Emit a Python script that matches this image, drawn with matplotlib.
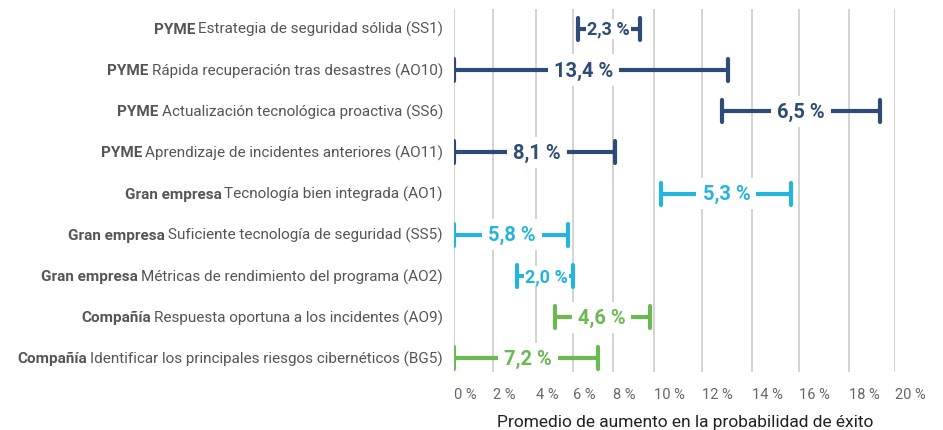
import matplotlib
matplotlib.use("Agg")
import matplotlib.pyplot as plt
import numpy as np

# ---- data ----
groups = ["PYME", "PYME", "PYME", "PYME",
          "Gran empresa", "Gran empresa", "Gran empresa",
          "Compañía", "Compañía"]
items = ["Estrategia de seguridad sólida (SS1)",
         "Rápida recuperación tras desastres (AO10)",
         "Actualización tecnológica proactiva (SS6)",
         "Aprendizaje de incidentes anteriores (AO11)",
         "Tecnología bien integrada (AO1)",
         "Suficiente tecnología de seguridad (SS5)",
         "Métricas de rendimiento del programa (AO2)",
         "Respuesta oportuna a los incidentes (AO9)",
         "Identificar los principales riesgos cibernéticos (BG5)"]
starts = [6.25, 0.0, 12.8, 0.0, 10.3, 0.0, 3.1, 5.05, 0.0]
ends = [9.3, 13.05, 19.35, 8.1, 15.65, 5.75, 6.0, 9.8, 7.25]
bar_labels = ["2,3 %", "13,4 %", "6,5 %", "8,1 %", "5,3 %",
              "5,8 %", "2,0 %", "4,6 %", "7,2 %"]
xticks = list(range(0, 21, 2))
xtick_labels = [f"{t} %" for t in xticks]

group_colors = {"PYME": "#2e4a76", "Gran empresa": "#25b4dd",
                "Compañía": "#6cb852"}

# the source graphic spaces its gridlines unevenly; mimic it with a
# piecewise-linear scale (pixel offset of each gridline from the 0 % line)
grid_offsets = [0, 39, 82, 119, 159, 200, 248, 298, 345, 395, 441]


def _fwd(x):
    return np.interp(x, xticks, grid_offsets)


def _inv(y):
    return np.interp(y, grid_offsets, xticks)


plt.rcParams["font.family"] = ["Roboto", "DejaVu Sans"]

W, H = 943, 431
fig = plt.figure(figsize=(W / 100, H / 100), dpi=100)
ax = fig.add_axes([454 / W, 1 - 373 / H, (895 - 454) / W, (373 - 10) / H])
ax.set_xscale("function", functions=(_fwd, _inv))

n = len(items)
cap = 0.265
for i in range(n):
    c = group_colors[groups[i]]
    s, e = starts[i], ends[i]
    ax.hlines(i, s, e, color=c, lw=3, capstyle="round", zorder=3)
    ax.vlines([s, e], i - cap, i + cap, color=c, lw=3,
              capstyle="round", zorder=5)
    small = (e - s) < 3.5
    ax.text((s + e) / 2, i, bar_labels[i], ha="center", va="center",
            color=c, fontsize=13 if small else 14.5, fontweight="bold",
            zorder=4,
            bbox=dict(boxstyle="square,pad=%s" % (0.05 if small else 0.3),
                      fc="white", ec="none"))

ax.set_xlim(0, 20)
ax.set_ylim(n - 1 + 0.33, -0.48)
ax.set_xticks(xticks)
ax.set_xticklabels(xtick_labels, color="#666666", fontsize=10.5)
ax.xaxis.set_minor_locator(matplotlib.ticker.NullLocator())
for lbl in ax.get_xticklabels():
    lbl.set_ha("left")
ax.tick_params(axis="x", length=0, pad=11)
ax.set_yticks([])
ax.grid(axis="x", color="#c8c8c8", lw=1.1, zorder=0)
for sp in ax.spines.values():
    sp.set_visible(False)
ax.set_xlabel("Promedio de aumento en la probabilidad de éxito",
              fontsize=12.5, color="#222222")
ax.xaxis.set_label_coords(0.524, -0.115)

# left labels: bold group + normal item text, right-aligned
fig.canvas.draw()
r = fig.canvas.get_renderer()
x_right = 443
for i in range(n):
    y = ax.transData.transform((0, i))[1]
    t = fig.text(x_right / W, y / H, items[i], ha="right", va="center",
                 fontsize=11, color="#555555")
    bb = t.get_window_extent(r)
    fig.text((bb.x0 - 3) / W, y / H, groups[i], ha="right", va="center",
             fontsize=11, color="#555555", fontweight="bold")

fig.savefig("out.png", dpi=100)
